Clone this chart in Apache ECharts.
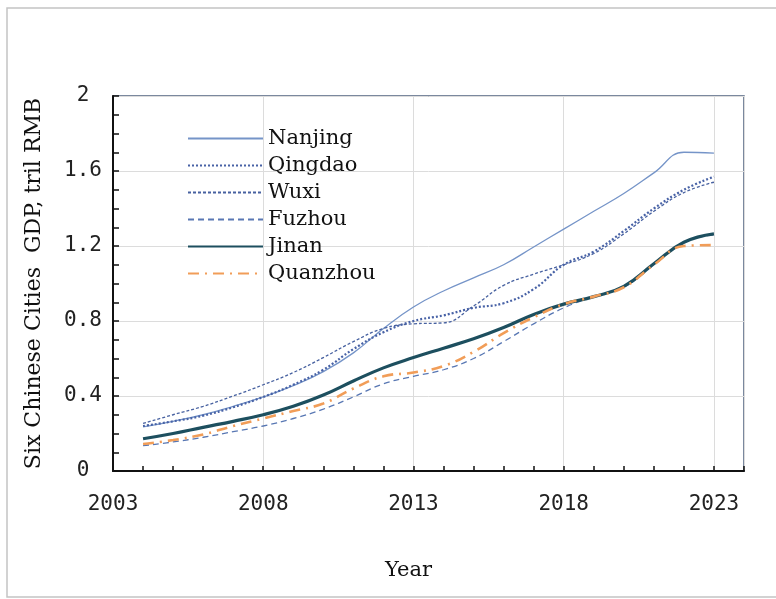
<!DOCTYPE html>
<html>
<head>
<meta charset="utf-8">
<script src="https://cdn.jsdelivr.net/npm/echarts@6/dist/echarts.min.js"></script>
<style>
html,body{margin:0;padding:0;background:#fff;}
#c{width:776px;height:599px;}
</style>
</head>
<body>
<div id="c"></div>
<script>
const years = [2004,2005,2006,2007,2008,2009,2010,2011,2012,2013,2014,2015,2016,2017,2018,2019,2020,2021,2022,2023];
const nanjing  = [0.235,0.265,0.30,0.345,0.395,0.455,0.53,0.63,0.76,0.875,0.96,1.03,1.10,1.195,1.29,1.385,1.48,1.59,1.70,1.695];
const qingdao  = [0.24,0.265,0.295,0.34,0.395,0.46,0.54,0.65,0.74,0.80,0.83,0.87,0.895,0.97,1.10,1.17,1.28,1.40,1.50,1.57];
const wuxi     = [0.254,0.30,0.345,0.40,0.46,0.525,0.605,0.69,0.76,0.785,0.79,0.88,0.99,1.05,1.10,1.16,1.265,1.385,1.485,1.54];
const fuzhou   = [0.135,0.155,0.18,0.21,0.24,0.28,0.33,0.395,0.465,0.505,0.54,0.60,0.69,0.785,0.87,0.93,0.98,1.10,1.22,1.26];
const jinan    = [0.172,0.20,0.233,0.265,0.30,0.345,0.405,0.48,0.55,0.605,0.655,0.705,0.765,0.835,0.89,0.93,0.985,1.105,1.22,1.265];
const quanzhou = [0.144,0.165,0.195,0.24,0.28,0.32,0.36,0.44,0.505,0.525,0.56,0.635,0.735,0.82,0.89,0.93,0.98,1.10,1.20,1.205];
const xTickLabels = ['2003','2008','2013','2018','2023'];
const yTickLabels = ['0','0.4','0.8','1.2','1.6','2'];

const pairs = arr => years.map((y, i) => [y, arr[i]]);
const serif = 'DejaVu Serif';
const mono = 'DejaVu Sans Mono';

function line(name, data, color, width, type) {
  return {
    name: name, type: 'line', data: pairs(data), smooth: 0.45,
    symbol: 'none', xAxisIndex: 0, yAxisIndex: 0,
    lineStyle: {color: color, width: width, type: type},
    itemStyle: {color: color},
    emphasis: {disabled: true}
  };
}

const chart = echarts.init(document.getElementById('c'), null, {renderer: 'canvas'});
chart.setOption({
  backgroundColor: '#ffffff',
  animation: false,
  graphic: [{
    type: 'rect', silent: true, z: -10,
    shape: {x: 7, y: 8, width: 790, height: 589},
    style: {fill: 'none', stroke: '#c4c4c4', lineWidth: 1.5}
  }],
  grid: {left: 113, right: 32, top: 96, bottom: 128, show: true,
         borderColor: '#4f617f', borderWidth: 1.5, backgroundColor: 'transparent'},
  legend: {
    orient: 'vertical', left: 187, top: 128, padding: 0,
    itemWidth: 75, itemHeight: 14, itemGap: 6,
    itemStyle: {opacity: 0},
    textStyle: {fontFamily: serif, fontSize: 21, color: '#111', lineHeight: 16},
    data: ['Nanjing','Qingdao','Wuxi','Fuzhou','Jinan','Quanzhou']
  },
  xAxis: [{
    type: 'value', min: 2003, max: 2024, interval: 1, position: 'bottom',
    name: 'Year', nameLocation: 'middle', nameGap: 89,
    nameTextStyle: {fontFamily: serif, fontSize: 21, color: '#111', padding: [0, 40, 0, 0]},
    axisLine: {show: true, lineStyle: {color: '#111', width: 2}},
    axisTick: {show: true, inside: true, length: 5, lineStyle: {color: '#111', width: 1.5}},
    axisLabel: {
      margin: 23, fontFamily: mono, fontSize: 21, color: '#222',
      formatter: v => { const s = String(Math.round(v)); return xTickLabels.indexOf(s) >= 0 && Math.abs(v - Math.round(v)) < 1e-6 ? s : ''; }
    },
    splitLine: {show: false}
  }, {
    type: 'value', min: 2003, max: 2024, interval: 5, position: 'bottom',
    axisLine: {show: false}, axisTick: {show: false}, axisLabel: {show: false},
    splitLine: {show: true, lineStyle: {color: '#dcdcdc', width: 1}}
  }],
  yAxis: [{
    type: 'value', min: 0, max: 2, interval: 0.1, position: 'left',
    name: 'Six Chinese Cities  GDP, tril RMB', nameLocation: 'middle', nameGap: 68,
    nameTextStyle: {fontFamily: serif, fontSize: 22, color: '#111'},
    axisLine: {show: true, lineStyle: {color: '#111', width: 2}},
    axisTick: {show: true, inside: true, length: 6, lineStyle: {color: '#111', width: 1.5}},
    axisLabel: {
      margin: 30, align: 'center', fontFamily: mono, fontSize: 21, color: '#222',
      formatter: v => {
        const k = Math.round(v * 10);
        if (k % 4 !== 0) return '';
        return yTickLabels[k / 4] || '';
      }
    },
    splitLine: {show: false}
  }, {
    type: 'value', min: 0, max: 2, interval: 0.4, position: 'left',
    axisLine: {show: false}, axisTick: {show: false}, axisLabel: {show: false},
    splitLine: {show: true, lineStyle: {color: '#dcdcdc', width: 1}}
  }],
  series: [
    line('Nanjing', nanjing, '#7594c8', 1.3, 'solid'),
    line('Qingdao', qingdao, '#4862a6', 2.2, [2, 2]),
    line('Wuxi', wuxi, '#4761a0', 1.3, [3, 2]),
    line('Fuzhou', fuzhou, '#5877b3', 1.3, [6, 4]),
    line('Jinan', jinan, '#1d4f5f', 3.2, 'solid'),
    line('Quanzhou', quanzhou, '#f19d58', 2.6, [11, 6, 2, 6])
  ]
});
</script>
</body>
</html>
